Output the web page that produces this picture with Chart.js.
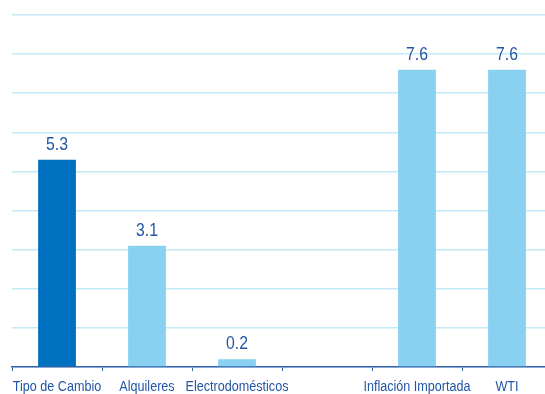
<!DOCTYPE html>
<html>
<head>
<meta charset="utf-8">
<script src="https://cdn.jsdelivr.net/npm/chart.js@4/dist/chart.umd.min.js"></script>
<style>
  html, body { margin: 0; padding: 0; background: #fff; overflow: hidden; width: 545px; height: 394px; }
  #c { display: block; }
</style>
</head>
<body>
<canvas id="c" width="560" height="394"></canvas>
<script>
// Contribution by component
const categories = ['Tipo de Cambio', 'Alquileres', 'Electrodomésticos', '', 'Inflación Importada', 'WTI'];
const values = [5.3, 3.1, 0.2, null, 7.6, 7.6];
const barColors = ['#0070C0', '#89D1F1', '#89D1F1', '#89D1F1', '#89D1F1', '#89D1F1'];

const textColor = '#2356A6';
const gridColor = '#C4E9F9';
const axisColor = '#3461A8';
const fontFamily = '"Liberation Sans", Arial, sans-serif';

// Draws text horizontally condensed, centred on x
function condensedText(ctx, text, x, y, squeeze) {
  ctx.save();
  ctx.translate(x, y);
  ctx.scale(squeeze, 1);
  ctx.fillText(text, 0, 0);
  ctx.restore();
}

// Value labels above each bar and condensed category labels
const textLayer = {
  id: 'textLayer',
  afterDatasetsDraw(chart) {
    const ctx = chart.ctx;
    const meta = chart.getDatasetMeta(0);
    const xScale = chart.scales.x;
    ctx.save();
    ctx.fillStyle = textColor;
    ctx.textAlign = 'center';
    ctx.textBaseline = 'alphabetic';
    ctx.font = '19px ' + fontFamily;
    meta.data.forEach((bar, i) => {
      const v = values[i];
      if (v === null || v === undefined) return;
      condensedText(ctx, v.toFixed(1), bar.x, bar.y - 10, 0.83);
    });
    ctx.font = '14px ' + fontFamily;
    categories.forEach((label, i) => {
      if (!label) return;
      condensedText(ctx, label, xScale.getPixelForValue(i), xScale.bottom - 3, 0.9);
    });
    ctx.restore();
  }
};

new Chart(document.getElementById('c'), {
  type: 'bar',
  data: {
    labels: categories,
    datasets: [{
      data: values,
      backgroundColor: barColors,
      borderWidth: 0,
      barPercentage: 0.42,
      categoryPercentage: 1.0
    }]
  },
  options: {
    responsive: false,
    animation: false,
    layout: { padding: { left: 12, top: 15, right: 8, bottom: 0 } },
    plugins: { legend: { display: false }, tooltip: { enabled: false } },
    scales: {
      x: {
        grid: { display: true, drawOnChartArea: false, color: axisColor, tickLength: 4, offset: true },
        border: { display: true, color: axisColor, width: 1.5 },
        ticks: { color: 'rgba(0,0,0,0)', font: { size: 13 }, maxRotation: 0, autoSkip: false },
        afterFit(scale) { scale.height = 27; }
      },
      y: {
        min: 0,
        max: 9,
        ticks: { stepSize: 1, display: false },
        grid: { color: gridColor, lineWidth: 1.5, drawTicks: false },
        border: { display: false },
        afterFit(scale) { scale.width = 0; }
      }
    }
  },
  plugins: [textLayer]
});
</script>
</body>
</html>
